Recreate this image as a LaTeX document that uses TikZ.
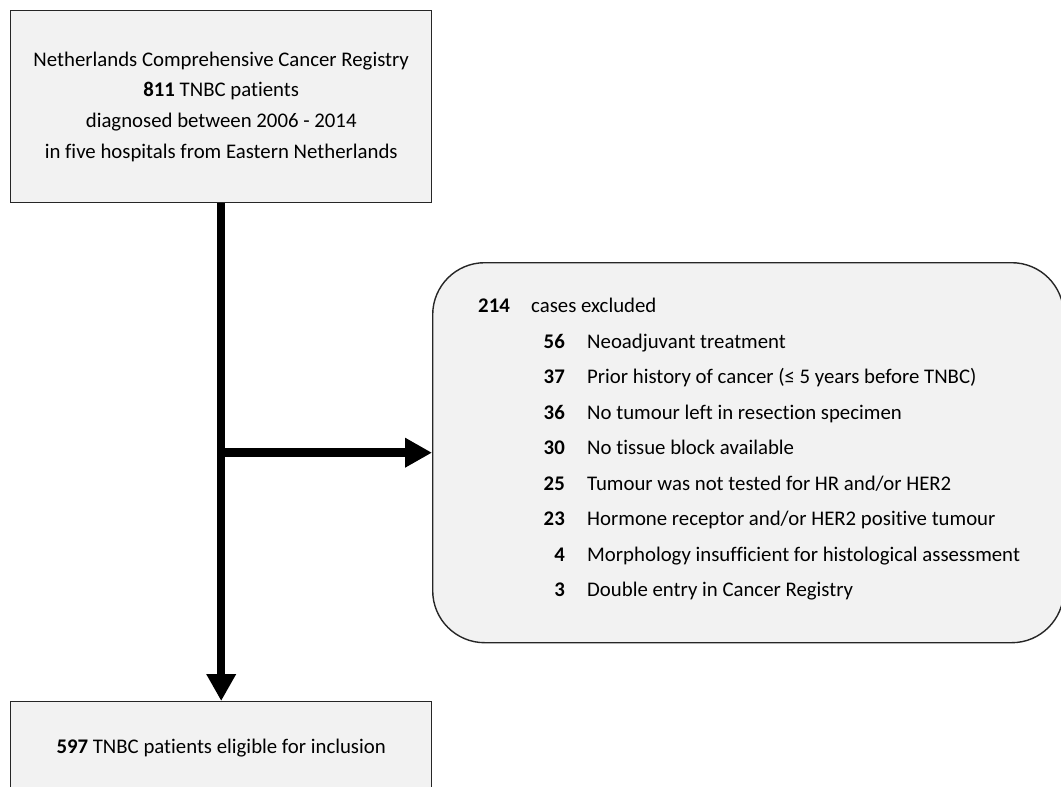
\documentclass[tikz,border=0pt]{standalone}
\usepackage{fontspec}
\setmainfont{Carlito}[Ligatures={NoCommon}]
\usetikzlibrary{arrows.meta}
\definecolor{boxgray}{HTML}{F2F2F2}
\definecolor{edge}{HTML}{262626}
\begin{document}
\begin{tikzpicture}[x=1pt,y=-1pt,
  box/.style={draw=edge, line width=1.4pt, fill=boxgray, inner sep=0pt, font=\fontsize{20.8}{30.7}\selectfont},
  txt/.style={inner sep=0pt, font=\fontsize{20.8}{24}\selectfont},
  flow/.style={line width=8.5pt, -{Triangle[length=27pt,width=28pt]}},
]
\useasboundingbox (0,0) rectangle (1061,787);
\clip (0,0) rectangle (1061,787);
\fill[white] (0,0) rectangle (1061,787);

\node[box, anchor=north west, minimum width=421pt, minimum height=192pt, align=center] (top) at (10,10)
  {Netherlands Comprehensive Cancer Registry\\
   \textbf{811} TNBC patients\\
   diagnosed between 2006 - 2014\\
   in five hospitals from Eastern Netherlands};

\node[box, anchor=north west, minimum width=421pt, minimum height=92pt] (bottom) at (10,701)
  {\textbf{597} TNBC patients eligible for inclusion};

\node[box, anchor=north west, minimum width=631pt, minimum height=380pt, rounded corners=52pt] (excl) at (432,262) {};

\node[txt, anchor=mid west] (n0) at (478,310.5) {\textbf{214}};
\node[txt, anchor=mid west] (d0) at (531,310.5) {cases excluded};

\foreach \i/\n/\d in {
  1/56/{Neoadjuvant treatment},
  2/37/{Prior history of cancer (≤ 5 years before TNBC)},
  3/36/{No tumour left in resection specimen},
  4/30/{No tissue block available},
  5/25/{Tumour was not tested for HR and/or HER2},
  6/23/{Hormone receptor and/or HER2 positive tumour},
  7/4/{Morphology insufficient for histological assessment},
  8/3/{Double entry in Cancer Registry}}{
  \node[txt, anchor=mid east] (n\i) at (565,{310.5+35.45*\i}) {\textbf{\n}};
  \node[txt, anchor=mid west] (d\i) at (587,{310.5+35.45*\i}) {\d};
}

\draw[flow] (top) -- (bottom);
\coordinate (br) at (top.south |- excl.west);
\draw[flow] (br) -- (excl.west);
\end{tikzpicture}
\end{document}
